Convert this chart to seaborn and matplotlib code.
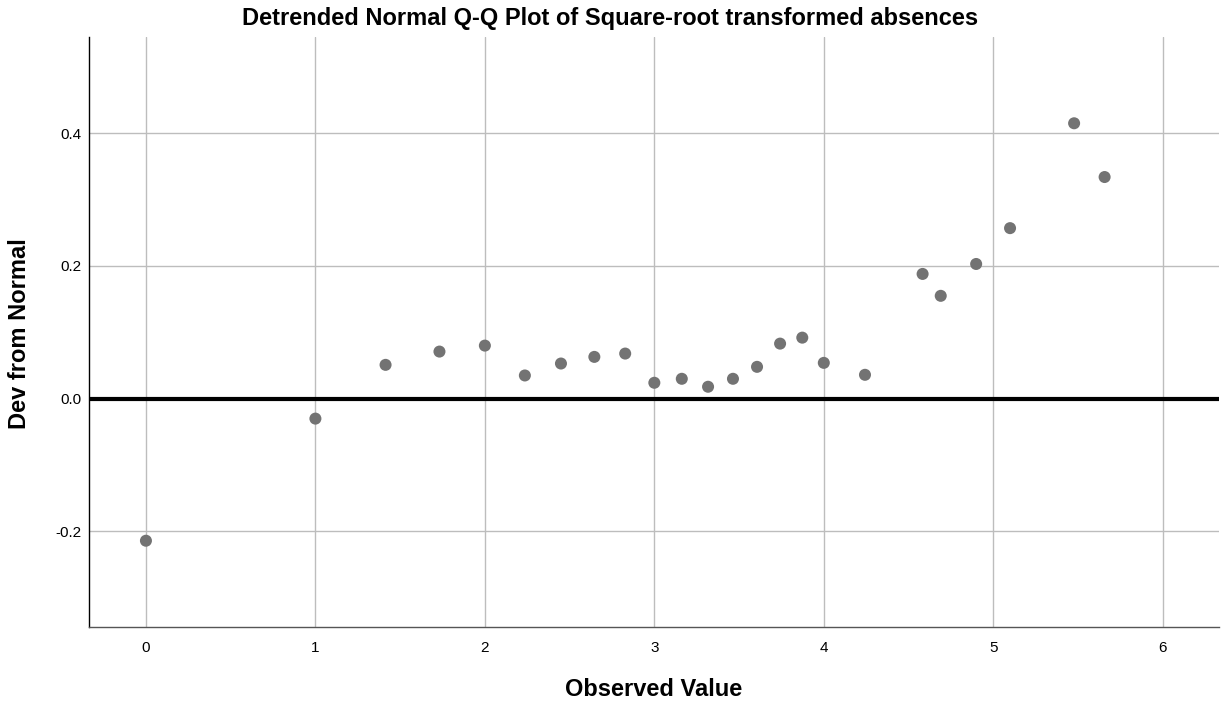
import numpy as np
import pandas as pd
import matplotlib
matplotlib.use('Agg')
import matplotlib.pyplot as plt
import seaborn as sns

# observed values (square-root transformed absences) and their deviation from normal
observed = [0.0, 1.0, 1.414, 1.732, 2.0, 2.236, 2.449, 2.646, 2.828, 3.0, 3.162,
            3.317, 3.464, 3.606, 3.742, 3.873, 4.0, 4.243, 4.583, 4.690, 4.899,
            5.099, 5.477, 5.657]
deviation = [-0.214, -0.030, 0.051, 0.071, 0.080, 0.035, 0.053, 0.063, 0.068, 0.024,
             0.030, 0.018, 0.030, 0.048, 0.083, 0.092, 0.054, 0.036, 0.188, 0.155,
             0.203, 0.257, 0.415, 0.334]
x_ticks = [0, 1, 2, 3, 4, 5, 6]
y_ticks = [-0.2, 0.0, 0.2, 0.4]
y_tick_labels = ['-0.2', '0.0', '0.2', '0.4']

df = pd.DataFrame({'Observed Value': observed, 'Dev from Normal': deviation})

sns.set_style('white')
plt.rcParams['font.family'] = ['Liberation Sans', 'DejaVu Sans']
plt.rcParams['text.color'] = 'black'
plt.rcParams['axes.labelcolor'] = 'black'
plt.rcParams['xtick.color'] = 'black'
plt.rcParams['ytick.color'] = 'black'

fig = plt.figure(figsize=(12.21, 7.03), dpi=100)
ax = fig.add_axes([89 / 1221, 1 - 627 / 703, 1130 / 1221, 590 / 703])

# grid
for xt in x_ticks:
    ax.axvline(xt, color='#bdbdbd', lw=1.0, zorder=0)
for yt in y_ticks:
    if yt != 0:
        ax.axhline(yt, color='#bdbdbd', lw=1.0, zorder=0)

ax.axhline(0, color='black', lw=3, zorder=1)

sns.scatterplot(data=df, x='Observed Value', y='Dev from Normal', ax=ax,
                color='#737373', s=75, edgecolor='none', zorder=3)

ax.set_xlim(-0.336, 6.332)
ax.set_ylim(-0.344, 0.545)
ax.set_xticks(x_ticks)
ax.set_xticklabels([str(t) for t in x_ticks], fontsize=11)
ax.set_yticks(y_ticks)
ax.set_yticklabels(y_tick_labels, fontsize=11)
ax.tick_params(axis='x', length=0, pad=10)
ax.tick_params(axis='y', length=0, pad=5.5)

for side in ['top', 'right']:
    ax.spines[side].set_visible(False)
ax.spines['left'].set_color('black')
ax.spines['left'].set_linewidth(1.0)
ax.spines['bottom'].set_color('#555555')
ax.spines['bottom'].set_linewidth(1.0)

ax.set_xlabel('')
ax.set_ylabel('')
fig.text(654 / 1221, 1 - 689 / 703, 'Observed Value',
         ha='center', va='center', fontsize=17, fontweight='bold')
fig.text(20 / 1221, 1 - 334 / 703, 'Dev from Normal', rotation=90,
         ha='center', va='center', fontsize=17, fontweight='bold')
fig.text(0.5, 1 - 18 / 703, 'Detrended Normal Q-Q Plot of Square-root transformed absences',
         ha='center', va='center', fontsize=17, fontweight='bold')

fig.savefig('out.png', dpi=100)
